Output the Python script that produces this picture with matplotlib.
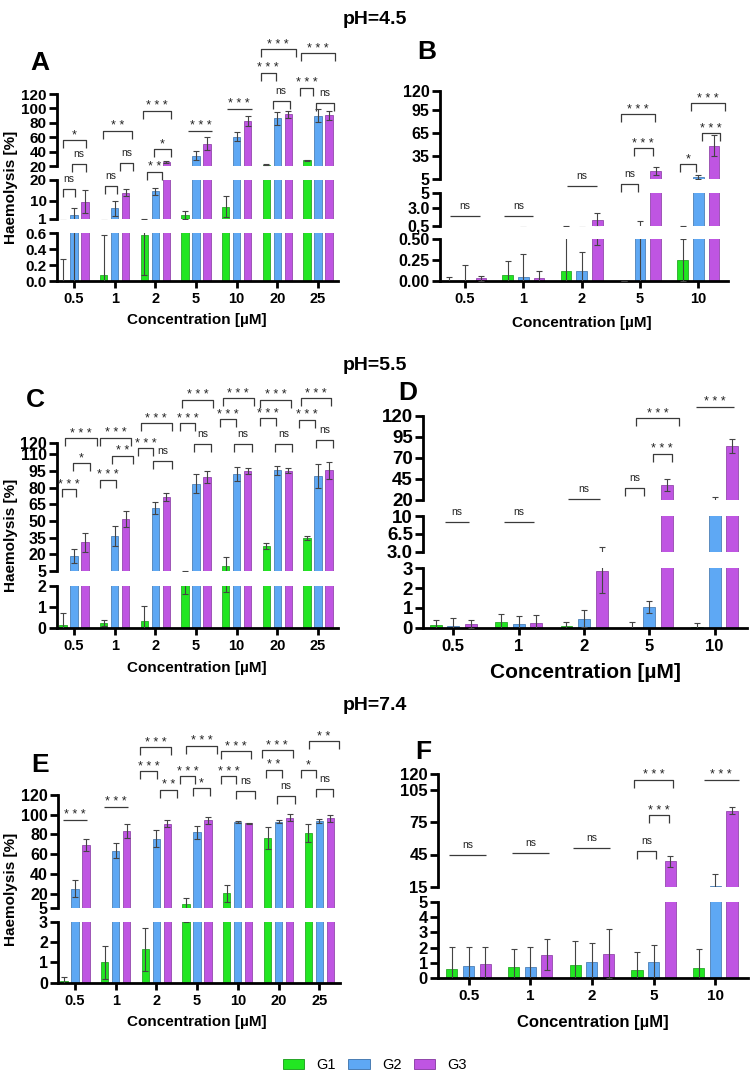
import numpy as np
import matplotlib

matplotlib.use("Agg")
import matplotlib.pyplot as plt  # noqa: E402
from matplotlib.patches import Patch  # noqa: E402

plt.rcParams["font.family"] = ["Liberation Sans", "DejaVu Sans"]

# ---- data -------------------------------------------------------------
conc_wide = ["0.5", "1", "2", "5", "10", "20", "25"]
conc_narrow = ["0.5", "1", "2", "5", "10"]
groups = ["G1", "G2", "G3"]

# pH 4.5
a_g1 = [0.0, 0.07, 0.58, 2.9, 7.0, 22.0, 28.0]
a_g1_err = [0.28, 0.50, 0.5, 2.1, 5.0, 0.8, 0.8]
a_g2 = [2.9, 6.3, 14.4, 34.5, 60.6, 86.0, 89.6]
a_g2_err = [3.3, 3.7, 1.9, 6.5, 6.4, 9.0, 9.0]
a_g3 = [9.5, 13.9, 25.0, 51.0, 82.6, 92.0, 90.5]
a_g3_err = [5.5, 1.6, 1.5, 9.0, 7.4, 5.0, 6.5]

b_g1 = [0.0, 0.07, 0.12, 0.0, 0.25]
b_g1_err = [0.05, 0.17, 0.42, 0.0, 0.25]
b_g2 = [0.0, 0.05, 0.12, 0.55, 8.5]
b_g2_err = [0.19, 0.27, 0.23, 0.65, 2.5]
b_g3 = [0.03, 0.03, 1.33, 15.8, 48.7]
b_g3_err = [0.03, 0.09, 0.9, 4.8, 13.5]

# pH 5.5
c_g1 = [0.15, 0.22, 0.32, 3.3, 9.5, 27.5, 34.4]
c_g1_err = [0.55, 0.16, 0.73, 1.7, 7.8, 2.5, 1.8]
c_g2 = [18.5, 36.5, 62.0, 83.6, 92.3, 95.6, 90.5]
c_g2_err = [6.3, 9.3, 5.4, 8.4, 6.7, 4.2, 10.8]
c_g3 = [30.8, 51.8, 71.3, 89.9, 95.0, 95.3, 95.6]
c_g3_err = [8.7, 7.5, 3.7, 5.4, 3.0, 2.1, 7.4]

d_g1 = [0.15, 0.27, 0.1, 0.0, 0.05]
d_g1_err = [0.26, 0.43, 0.2, 0.31, 0.17]
d_g2 = [0.08, 0.18, 0.45, 1.05, 19.0]
d_g2_err = [0.42, 0.42, 0.43, 0.29, 5.0]
d_g3 = [0.2, 0.26, 2.85, 37.9, 84.3]
d_g3_err = [0.2, 0.36, 1.1, 6.7, 8.3]

# pH 7.4
e_g1 = [0.1, 1.0, 1.64, 9.1, 20.3, 76.5, 81.3]
e_g1_err = [0.18, 0.8, 1.05, 6.1, 8.4, 11.2, 9.5]
e_g2 = [25.0, 63.3, 75.8, 82.0, 92.8, 92.8, 93.8]
e_g2_err = [9.0, 7.7, 8.5, 7.0, 1.0, 1.7, 2.0]
e_g3 = [69.0, 83.6, 90.8, 94.2, 91.4, 96.9, 96.5]
e_g3_err = [6.0, 6.8, 3.4, 3.3, 0.6, 3.7, 3.4]

f_g1 = [0.61, 0.72, 0.85, 0.54, 0.65]
f_g1_err = [1.41, 1.17, 1.58, 1.2, 1.24]
f_g2 = [0.8, 0.76, 1.09, 1.04, 15.9]
f_g2_err = [1.22, 1.26, 1.19, 1.16, 10.6]
f_g3 = [0.91, 1.54, 1.61, 38.8, 85.9]
f_g3_err = [1.16, 1.0, 1.61, 5.0, 3.1]

# significance marks: (x from, x to, y in top-segment units, text, with legs)
ann_a = [
    (-0.28, 0.29, 56, "*", True), (-0.06, 0.29, 22.4, "ns", True),
    (-0.28, 0.02, -12.4, "ns", True), (0.72, 1.42, 68.6, "**", True),
    (1.13, 1.46, 24.6, "ns", True), (0.75, 1.05, -7.8, "ns", True),
    (1.69, 2.38, 96.4, "***", True), (1.97, 2.38, 43, "*", True),
    (1.79, 2.15, 12, "**", True), (2.81, 3.40, 68.6, "***", False),
    (3.75, 4.37, 99.2, "***", False), (4.59, 4.96, 149.6, "***", True),
    (4.88, 5.31, 110, "ns", True), (4.59, 5.45, 182, "***", True),
    (5.55, 5.88, 128.7, "***", True), (5.95, 6.39, 108, "ns", True),
    (5.57, 6.41, 176.5, "***", True),
]
ann_b = [
    (-0.26, 0.26, -42.2, "ns", False), (0.66, 1.17, -42.2, "ns", False),
    (1.74, 2.26, -3.3, "ns", False), (2.67, 2.97, -1.5, "ns", True),
    (2.89, 3.22, 45.3, "***", True), (2.67, 3.26, 89.4, "***", True),
    (3.69, 3.96, 24.5, "*", True), (4.06, 4.37, 64.7, "***", True),
    (3.88, 4.46, 103.7, "***", True),
]
ann_c = [
    (-0.30, 0.05, 78.5, "***", True), (-0.03, 0.39, 102.5, "*", True),
    (-0.22, 0.57, 124.4, "***", True), (0.64, 1.03, 86.9, "***", True),
    (0.93, 1.44, 108.5, "**", True), (0.64, 1.40, 125, "***", True),
    (1.56, 1.95, 115.4, "***", True), (1.95, 2.40, 104.3, "ns", True),
    (1.64, 2.40, 138, "***", True), (2.60, 2.97, 138, "***", True),
    (2.95, 3.36, 119.3, "ns", True), (2.65, 3.42, 159, "***", True),
    (3.59, 3.98, 141.5, "***", True), (3.94, 4.37, 119.3, "ns", True),
    (3.65, 4.42, 160.4, "***", True), (4.57, 4.96, 142.4, "***", True),
    (4.94, 5.35, 119.3, "ns", True), (4.57, 5.33, 159, "***", True),
    (5.54, 5.92, 141, "***", True), (5.95, 6.36, 123, "ns", True),
    (5.57, 6.31, 160.4, "***", True),
]
ann_d = [
    (-0.13, 0.24, -5.8, "ns", False), (0.77, 1.24, -5.8, "ns", False),
    (1.76, 2.24, 21.2, "ns", False), (2.63, 2.92, 33.9, "ns", True),
    (3.05, 3.34, 74.8, "***", True), (2.80, 3.46, 117.2, "***", True),
    (3.71, 4.30, 131, "***", False),
]
ann_e = [
    (-0.29, 0.30, 94.8, "***", False), (0.71, 1.31, 107.7, "***", False),
    (1.60, 2.01, 144, "***", True), (2.09, 2.50, 125.3, "**", True),
    (1.60, 2.35, 168.4, "***", True), (2.58, 2.95, 139, "***", True),
    (2.90, 3.32, 127, "*", True), (2.73, 3.49, 170, "***", True),
    (3.58, 3.96, 139, "***", True), (3.96, 4.41, 124.3, "ns", True),
    (3.58, 4.32, 164.3, "***", True), (4.68, 5.09, 145.7, "**", True),
    (4.96, 5.41, 118.6, "ns", True), (4.59, 5.35, 165.3, "***", True),
    (5.55, 5.93, 145.7, "*", True), (5.91, 6.34, 126.4, "ns", True),
    (5.74, 6.48, 174.5, "**", True),
]
ann_f = [
    (-0.31, 0.29, 44.4, "ns", False), (0.70, 1.31, 46, "ns", False),
    (1.70, 2.29, 51.5, "ns", False), (2.73, 3.04, 48.4, "ns", True),
    (2.92, 3.25, 81.6, "***", True), (2.69, 3.31, 114.7, "***", True),
    (3.81, 4.38, 114.7, "***", False),
]

# ---- style --------------------------------------------------------------
W, H = 750, 1075
colors = ["#22E622", "#5EA8F4", "#BF55E2"]
edges = ["#159915", "#3A6FA8", "#84369F"]
offsets = [-0.27, 0.0, 0.27]
bar_w = 0.18

fig = plt.figure(figsize=(W / 100, H / 100), dpi=100)


def px_axes(x0, x1, ytop, ybot):
    return fig.add_axes([x0 / W, 1 - ybot / H, (x1 - x0) / W, (ybot - ytop) / H])


def bracket(ax, x1, x2, y, text, legs, seg_px, seg_units):
    leg = 8 * seg_units / seg_px
    if legs:
        xs, ys = [x1, x1, x2, x2], [y - leg, y, y, y - leg]
    else:
        xs, ys = [x1, x2], [y, y]
    ax.plot(xs, ys, color="#3a3a3a", lw=0.9, clip_on=False, solid_capstyle="butt")
    star = "*" in text
    label = " ".join(text) if star else text
    ax.annotate(label, xy=((x1 + x2) / 2, y), xytext=(0, 1.2 if star else 5.0),
                textcoords="offset points", ha="center", va="baseline",
                fontsize=9 if star else 7.5, color="#222222", annotation_clip=False)


def draw_panel(x0, x1, xlim, segments, cats, series, errs, ann, ytick_fs, xtick_fs):
    n = len(cats)
    xpos = np.arange(n)
    axes = []
    for k, (lo, hi, ticks, tlabels, ytop, ybot) in enumerate(segments):
        ax = px_axes(x0, x1, ytop, ybot)
        for i in range(3):
            ax.bar(xpos + offsets[i], series[i], width=bar_w, color=colors[i],
                   edgecolor=edges[i], linewidth=0.5, zorder=2)
            ax.errorbar(xpos + offsets[i], series[i], yerr=errs[i], fmt="none",
                        ecolor="#444444", elinewidth=0.8, capsize=2, capthick=0.8,
                        zorder=3)
        ax.set_xlim(*xlim)
        ax.set_ylim(lo, hi)
        ax.set_yticks(ticks)
        ax.set_yticklabels(tlabels, fontsize=ytick_fs, fontweight="bold")
        for s in ("top", "right"):
            ax.spines[s].set_visible(False)
        ax.spines["left"].set_linewidth(2)
        ax.tick_params(axis="y", length=6, width=2, pad=1.5)
        if k == 0:
            ax.spines["bottom"].set_linewidth(2)
            ax.set_xticks(xpos)
            ax.set_xticklabels(cats, fontsize=xtick_fs, fontweight="bold")
            ax.tick_params(axis="x", length=5, width=2, pad=3)
        else:
            ax.spines["bottom"].set_visible(False)
            ax.set_xticks([])
        ax.patch.set_alpha(0)
        axes.append(ax)
    top = axes[-1]
    lo, hi, _, _, ytop, ybot = segments[-1]
    for x1_, x2_, y, txt, legs in ann:
        bracket(top, x1_, x2_, y, txt, legs, ybot - ytop, hi - lo)
    return axes


def seg(lo, hi, ticks, ytop, ybot, labels=None):
    if labels is None:
        labels = [str(t) for t in ticks]
    return (lo, hi, ticks, labels, ytop, ybot)


# panel A
draw_panel(57, 338, (-0.42, 6.49), [
    seg(0, 0.6, [0, 0.2, 0.4, 0.6], 233, 281, ["0.0", "0.2", "0.4", "0.6"]),
    seg(1, 20, [1, 10, 20], 180, 219),
    seg(20, 120, [20, 40, 60, 80, 100, 120], 94, 166),
], conc_wide, [a_g1, a_g2, a_g3], [a_g1_err, a_g2_err, a_g3_err], ann_a, 11, 10.5)

# panel B
draw_panel(440, 728, (-0.43, 4.51), [
    seg(0, 0.5, [0, 0.25, 0.5], 239.3, 281, ["0.00", "0.25", "0.50"]),
    seg(0.5, 5, [0.5, 3, 5], 193.3, 226, ["0,5", "3.0", "5"]),
    seg(5, 120, [5, 35, 65, 95, 120], 90.7, 179.3),
], conc_narrow, [b_g1, b_g2, b_g3], [b_g1_err, b_g2_err, b_g3_err], ann_b, 11.5, 10.5)

# panel C
draw_panel(57, 338, (-0.42, 6.49), [
    seg(0, 2, [0, 1, 2], 585.7, 627.7),
    seg(5, 120, [5, 20, 35, 50, 65, 80, 95, 110, 120], 443.3, 571),
], conc_wide, [c_g1, c_g2, c_g3], [c_g1_err, c_g2_err, c_g3_err], ann_c, 11.5, 10.5)

# panel D
draw_panel(423.3, 746.7, (-0.46, 4.49), [
    seg(0, 3, [0, 1, 2, 3], 568.3, 627.7),
    seg(3, 10, [3, 6.5, 10], 516, 551.7, ["3.0", "6.5", "10"]),
    seg(20, 120, [20, 45, 70, 95, 120], 416, 500),
], conc_narrow, [d_g1, d_g2, d_g3], [d_g1_err, d_g2_err, d_g3_err], ann_d, 13.5, 12)

# panel E
draw_panel(58.3, 340, (-0.41, 6.51), [
    seg(0, 3, [0, 1, 2, 3], 921.7, 982.7),
    seg(5, 120, [5, 20, 40, 60, 80, 100, 120], 795, 908.3),
], conc_wide, [e_g1, e_g2, e_g3], [e_g1_err, e_g2_err, e_g3_err], ann_e, 11.5, 10.5)

# panel F
draw_panel(438.3, 748, (-0.49, 4.53), [
    seg(0, 5, [0, 1, 2, 3, 4, 5], 901.7, 978.3),
    seg(15, 120, [15, 45, 75, 105, 120], 774, 886.7),
], conc_narrow, [f_g1, f_g2, f_g3], [f_g1_err, f_g2_err, f_g3_err], ann_f, 12, 11)

# ---- labels -------------------------------------------------------------
def ftext(x, y, s, **kw):
    fig.text(x / W, 1 - y / H, s, ha="center", va="center", fontweight="bold", **kw)


for x, y, s in [(375, 20, "pH=4.5"), (375, 365, "pH=5.5"), (375, 705, "pH=7.4")]:
    ftext(x, y, s, fontsize=14)
for x, y, s in [(40, 63, "A"), (427, 52, "B"), (35, 400, "C"),
                (408, 393, "D"), (40, 765, "E"), (423, 752, "F")]:
    ftext(x, y, s, fontsize=19)
for y in (187, 535, 889):
    ftext(11, y, "Haemolysis [%]", fontsize=11, rotation=90)
for x, y, fs in [(197, 320, 11), (582, 323, 11), (197, 668, 11),
                 (585, 673, 15), (197, 1022, 11), (593, 1022, 12)]:
    ftext(x, y, "Concentration [µM]", fontsize=fs)

handles = [Patch(facecolor=c, edgecolor=e, linewidth=0.6) for c, e in zip(colors, edges)]
fig.legend(handles, groups, loc="center", bbox_to_anchor=(0.5, 1 - 1065 / H), ncol=3,
           frameon=False, fontsize=10.5, handlelength=1.45, handleheight=0.62,
           handletextpad=0.85, columnspacing=0.85)

fig.savefig("out.png", dpi=100)
